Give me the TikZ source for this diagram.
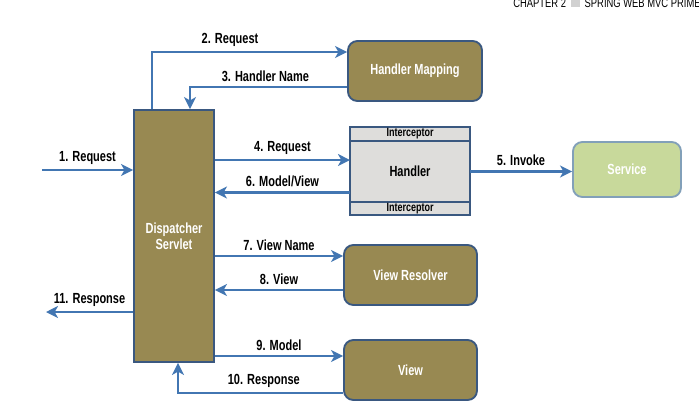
\documentclass[tikz,border=0pt]{standalone}
\usepackage{fontspec}
\setmainfont{Liberation Sans}
\newfontfamily\condfont[FakeStretch=0.75]{Liberation Sans}
\usetikzlibrary{arrows.meta,positioning}

\definecolor{olivebox}{RGB}{152,137,82}
\definecolor{edgeblue}{RGB}{58,88,128}
\definecolor{flowblue}{RGB}{66,118,178}
\definecolor{handlergray}{RGB}{222,221,219}
\definecolor{servicegreen}{RGB}{200,217,155}
\definecolor{serviceedge}{RGB}{130,160,185}

\tikzset{
  comp/.style={draw=edgeblue, line width=1.4pt, fill=olivebox, text=white, rounded corners=7pt, align=center},
  servletbox/.style={draw=edgeblue, line width=1.4pt, fill=olivebox, text=white, align=center},
  hbox/.style={draw=edgeblue, line width=1.4pt, fill=handlergray, inner sep=0pt, outer sep=0pt, minimum width=90pt},
  flow/.style={->, draw=flowblue, line width=1.8pt}
}

\begin{document}
\begin{tikzpicture}[x=0.75pt,y=-0.75pt,>={Stealth[length=9pt,width=9pt,inset=2.5pt]},auto,
  font=\condfont\bfseries\fontsize{11}{12}\selectfont]
    \useasboundingbox (0,0) rectangle (699,415);
    \clip (0,0) rectangle (699,415);

    \node[anchor=base west, font=\condfont\fontsize{9.4}{10}\selectfont, inner sep=0pt] (head) at (513,7.3)
      {CHAPTER 2\hspace{3.5pt}\textcolor{black!18}{\rule{7pt}{6.5pt}}\hspace{3.5pt}SPRING WEB MVC PRIMER};

    \node[servletbox, minimum width=60pt, minimum height=189pt] (ds) at (174,236) {Dispatcher\\Servlet};
    \node[comp, minimum width=100.5pt, minimum height=45pt] (hm) at (415,71) {Handler Mapping};
    \node[hbox, minimum height=45.75pt] (hnd) at (410,171.5) {Handler};
    \node[hbox, minimum height=10.5pt, font=\condfont\bfseries\fontsize{9}{10}\selectfont] (ic1) [above=0pt of hnd] {Interceptor};
    \node[hbox, minimum height=9.75pt, font=\condfont\bfseries\fontsize{9}{10}\selectfont] (ic2) [below=0pt of hnd] {Interceptor};
    \node[comp, fill=servicegreen, draw=serviceedge, minimum width=81pt, minimum height=41.25pt] (svc) at (627,169.5) {Service};
    \node[comp, minimum width=99.75pt, minimum height=45pt] (vr) at (410.5,275) {View Resolver};
    \node[comp, minimum width=99.75pt, minimum height=45pt] (view) at (410.5,370) {View};

    \coordinate (in) at (42,170);
    \coordinate (out) at (46,312);

    \draw[flow] (in) -- node {1. Request} (in -| ds.west);
    \draw[flow] ([xshift=-16.5pt]ds.north) |- node[pos=0.7] {2. Request} ([yshift=14.25pt]hm.west);
    \draw[flow] ([yshift=-12pt]hm.west) -| node[pos=0.26,swap] {3. Handler Name} ([xshift=12pt]ds.north);
    \draw[flow] ([yshift=8.6pt]hnd.west -| ds.east) -- node {4. Request} ([yshift=8.6pt]hnd.west);
    \draw[flow] (hnd.east) -- node {5. Invoke} (hnd.east -| svc.west);
    \draw[flow] ([yshift=-15.75pt]hnd.west) -- node[swap] {6. Model/View} ([yshift=-15.75pt]hnd.west -| ds.east);
    \draw[flow] ([yshift=14.25pt]vr.west -| ds.east) -- node {7. View Name} ([yshift=14.25pt]vr.west);
    \draw[flow] ([yshift=-11.25pt]vr.west) -- node[swap] {8. View} ([yshift=-11.25pt]vr.west -| ds.east);
    \draw[flow] ([yshift=10.5pt]view.west -| ds.east) -- node {9. Model} ([yshift=10.5pt]view.west);
    \draw[flow] ([yshift=-17.25pt]view.west) -| node[pos=0.24,swap] {10. Response} ([xshift=3pt]ds.south);
    \draw[flow] (out -| ds.west) -- node[swap] {11. Response} (out);
\end{tikzpicture}
\end{document}
